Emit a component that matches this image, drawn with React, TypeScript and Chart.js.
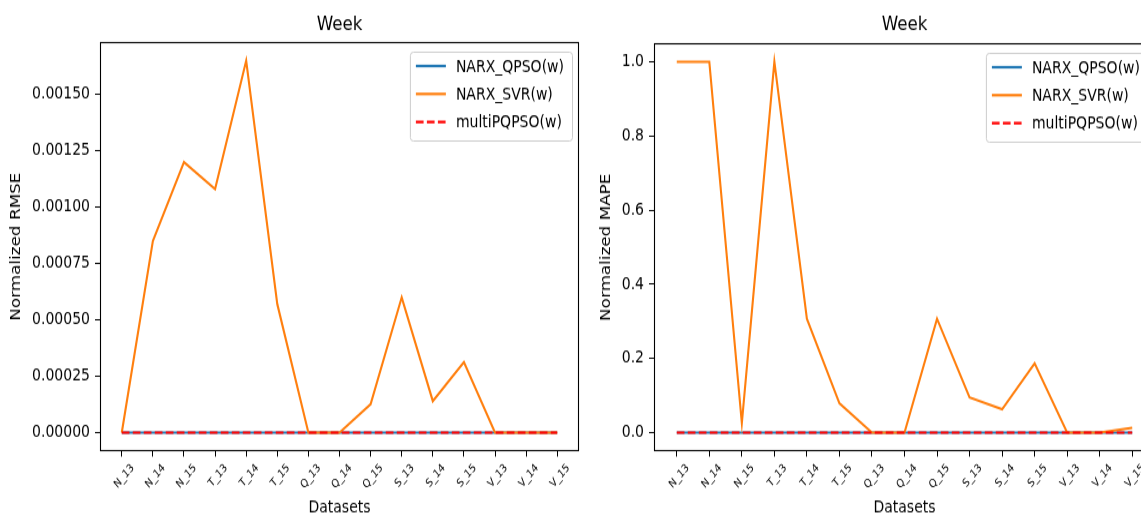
import React, { useEffect, useRef } from "react";
import { Chart, registerables } from "chart.js";

Chart.register(...registerables);

const DATASET_NAMES = [
  "N_13", "N_14", "N_15", "T_13", "T_14", "T_15", "Q_13", "Q_14",
  "Q_15", "S_13", "S_14", "S_15", "V_13", "V_14", "V_15",
];
const SERIES_LABELS = ["NARX_QPSO(w)", "NARX_SVR(w)", "multiPQPSO(w)"];
const SERIES_COLORS = ["#1f77b4", "#ff7f0e", "#ff0000"];

const RMSE_QPSO = [0, 0, 0, 0, 0, 0, 0, 0, 0, 0, 0, 0, 0, 0, 0];
const RMSE_SVR = [
  0, 0.00085, 0.0012, 0.00108, 0.00165, 0.00057, 0, 0, 0.000126, 0.0006,
  0.00014, 0.000312, 0, 0, 0,
];
const RMSE_MULTI = [0, 0, 0, 0, 0, 0, 0, 0, 0, 0, 0, 0, 0, 0, 0];

const MAPE_QPSO = [0, 0, 0, 0, 0, 0, 0, 0, 0, 0, 0, 0, 0, 0, 0];
const MAPE_SVR = [
  1.0, 1.0, 0.026, 1.0, 0.307, 0.079, 0, 0, 0.307, 0.095, 0.063, 0.187, 0,
  0, 0.013,
];
const MAPE_MULTI = [0, 0, 0, 0, 0, 0, 0, 0, 0, 0, 0, 0, 0, 0, 0];

const RMSE_TICKS = [0, 0.00025, 0.0005, 0.00075, 0.001, 0.00125, 0.0015];
const RMSE_TICK_LABELS = [
  "0.00000", "0.00025", "0.00050", "0.00075", "0.00100", "0.00125", "0.00150",
];
const MAPE_TICKS = [0, 0.2, 0.4, 0.6, 0.8, 1.0];
const MAPE_TICK_LABELS = ["0.0", "0.2", "0.4", "0.6", "0.8", "1.0"];

const FONT = '"DejaVu Sans", "Liberation Sans", sans-serif';

// the reference figure is vertically stretched: draw at H and scale by SY
const VIEW_H = 516;
const SY = 1.2;
const H = Math.round(VIEW_H / SY);

const decorPlugin = {
  id: "decor",
  afterDraw(chart: any, _args: any, opts: any) {
    const { ctx, chartArea: a } = chart;
    ctx.save();
    // frame
    ctx.strokeStyle = "#000";
    ctx.lineWidth = 1.1;
    ctx.setLineDash([]);
    ctx.strokeRect(a.left + 0.5, a.top + 0.5, a.right - a.left - 1, a.bottom - a.top - 1);
    // title
    ctx.fillStyle = "#000";
    ctx.font = `16.7px ${FONT}`;
    ctx.textAlign = "center";
    ctx.textBaseline = "alphabetic";
    ctx.fillText(opts.title, (a.left + a.right) / 2, opts.titleY);
    // legend
    const ds = chart.data.datasets;
    ctx.font = `14px ${FONT}`;
    let tw = 0;
    ds.forEach((d: any) => {
      tw = Math.max(tw, ctx.measureText(d.label).width);
    });
    const boxW = 46 + tw + 8;
    const boxH = 74;
    const bx = a.right - 7 - boxW;
    const by = a.top + 8;
    ctx.beginPath();
    ctx.roundRect(bx + 0.5, by + 0.5, boxW, boxH, 3);
    ctx.fillStyle = "rgba(255,255,255,0.8)";
    ctx.fill();
    ctx.strokeStyle = "#cccccc";
    ctx.lineWidth = 1;
    ctx.stroke();
    ds.forEach((d: any, i: number) => {
      const y = by + 12 + i * 23.3;
      ctx.beginPath();
      ctx.strokeStyle = d.borderColor;
      ctx.lineWidth = 2.2;
      ctx.setLineDash(d.borderDash || []);
      ctx.moveTo(bx + 6, y);
      ctx.lineTo(bx + 36, y);
      ctx.stroke();
      ctx.setLineDash([]);
      ctx.fillStyle = "#000";
      ctx.textAlign = "left";
      ctx.textBaseline = "middle";
      ctx.fillText(d.label, bx + 46, y + 1);
    });
    ctx.restore();
  },
};

type PanelProps = {
  series: number[][];
  yTicks: number[];
  yTickLabels: string[];
  yTitle: string;
  left: number;
  width: number;
  axisWidth: number;
  padRight: number;
  padTop: number;
};

function Panel(p: PanelProps) {
  const ref = useRef<HTMLCanvasElement | null>(null);
  useEffect(() => {
    if (!ref.current) return;
    const all = p.series.flat();
    const dMin = Math.min(...all);
    const dMax = Math.max(...all);
    const yRange = dMax - dMin;
    const n = DATASET_NAMES.length;
    const xPad = 0.05 * (n - 1);
    const chart = new Chart(ref.current, {
      type: "line",
      data: {
        datasets: p.series.map((vals, si) => ({
          label: SERIES_LABELS[si],
          data: DATASET_NAMES.map((_, i) => ({ x: i, y: vals[i] })),
          borderColor: SERIES_COLORS[si],
          backgroundColor: SERIES_COLORS[si],
          borderWidth: 2.1,
          borderDash: si === 2 ? [7.7, 3.3] : [],
          pointRadius: 0,
          tension: 0,
          fill: false,
          order: 2 - si,
        })),
      },
      options: {
        responsive: false,
        animation: false,
        devicePixelRatio: 1,
        layout: { padding: { top: p.padTop, right: p.padRight, left: 0, bottom: 0 } },
        plugins: {
          legend: { display: false },
          tooltip: { enabled: false },
          title: { display: false },
          decor: { title: "Week", titleY: 25 },
        } as any,
        scales: {
          x: {
            type: "linear",
            min: -xPad,
            max: n - 1 + xPad,
            afterBuildTicks: (s: any) => {
              s.ticks = DATASET_NAMES.map((_, i) => ({ value: i }));
            },
            afterFit: (s: any) => {
              s.height = 54;
            },
            grid: {
              display: true,
              drawOnChartArea: false,
              drawTicks: true,
              tickLength: 4.5,
              color: "#000",
              lineWidth: 1,
            },
            border: { display: false },
            ticks: {
              autoSkip: false,
              minRotation: 45,
              maxRotation: 45,
              padding: 4,
              labelOffset: 11,
              color: "#000",
              font: { family: FONT, size: 9.5 },
              callback: (_v: any, i: number) => DATASET_NAMES[i],
            },
            title: {
              display: true,
              text: "Datasets",
              color: "#000",
              font: { family: FONT, size: 14 },
              padding: { top: 0, bottom: -2 },
            },
          },
          y: {
            type: "linear",
            min: dMin - 0.05 * yRange,
            max: dMax + 0.05 * yRange,
            afterBuildTicks: (s: any) => {
              s.ticks = p.yTicks.map((v) => ({ value: v }));
            },
            afterFit: (s: any) => {
              s.width = p.axisWidth;
            },
            grid: {
              display: true,
              drawOnChartArea: false,
              drawTicks: true,
              tickLength: 5,
              color: "#000",
              lineWidth: 1,
            },
            border: { display: false },
            ticks: {
              autoSkip: false,
              padding: 5,
              color: "#000",
              font: { family: FONT, size: 14 },
              callback: (_v: any, i: number) => p.yTickLabels[i],
            },
            title: {
              display: true,
              text: p.yTitle,
              color: "#000",
              font: { family: FONT, size: 14 },
              padding: { top: 8, bottom: 0 },
            },
          },
        },
      } as any,
      plugins: [decorPlugin as any],
    });
    return () => chart.destroy();
  }, []);
  return (
    <canvas
      ref={ref}
      width={p.width}
      height={H}
      style={{
        position: "absolute",
        left: p.left,
        top: 0,
        width: p.width,
        height: H,
        transform: `scaleY(${VIEW_H / H})`,
        transformOrigin: "0 0",
      }}
    />
  );
}

export default function App() {
  return (
    <div
      style={{
        position: "fixed",
        left: 0,
        top: 0,
        width: 1141,
        height: VIEW_H,
        overflow: "hidden",
        background: "#fff",
      }}
    >
      <Panel
        series={[RMSE_QPSO, RMSE_SVR, RMSE_MULTI]}
        yTicks={RMSE_TICKS}
        yTickLabels={RMSE_TICK_LABELS}
        yTitle="Normalized RMSE"
        left={0}
        width={590}
        axisWidth={100}
        padRight={11}
        padTop={35}
      />
      <Panel
        series={[MAPE_QPSO, MAPE_SVR, MAPE_MULTI]}
        yTicks={MAPE_TICKS}
        yTickLabels={MAPE_TICK_LABELS}
        yTitle="Normalized MAPE"
        left={590}
        width={580}
        axisWidth={64}
        padRight={15}
        padTop={36}
      />
    </div>
  );
}
